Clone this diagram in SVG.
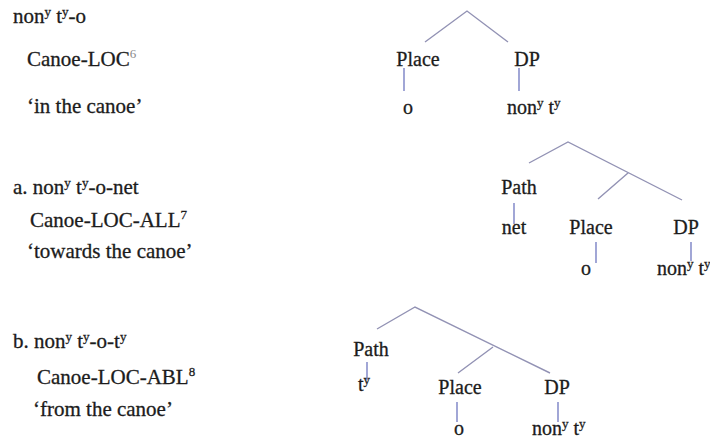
<svg xmlns="http://www.w3.org/2000/svg" width="710" height="440" viewBox="0 0 710 440">
<style>
text{font-family:"Liberation Serif","Times New Roman",serif;font-size:20px;fill:#1c1c1c;stroke:#1c1c1c;stroke-width:0.3}
.g text{font-size:21px}
.sup{font-size:13px}
.br{stroke:#9292b4;stroke-width:1.4;fill:none}
.vl{stroke:#7078c0;stroke-width:1.3;fill:none}
</style>
<rect width="710" height="440" fill="#ffffff"/>
<g id="gloss-main" class="g">
<text x="13" y="23">non<tspan class="sup" dy="-7">y</tspan><tspan dy="7"> t</tspan><tspan class="sup" dy="-7">y</tspan><tspan dy="7">-o</tspan></text>
<text x="27" y="66">Canoe-LOC<tspan class="sup" dy="-8" fill="#8a8a8a" stroke="none">6</tspan></text>
<text x="27" y="113">‘in the canoe’</text>
</g>
<g id="gloss-a" class="g">
<text x="13" y="194">a. non<tspan class="sup" dy="-7">y</tspan><tspan dy="7"> t</tspan><tspan class="sup" dy="-7">y</tspan><tspan dy="7">-o-net</tspan></text>
<text x="30" y="227">Canoe-LOC-ALL<tspan class="sup" dy="-8">7</tspan></text>
<text x="27" y="258">‘towards the canoe’</text>
</g>
<g id="gloss-b" class="g">
<text x="13" y="348">b. non<tspan class="sup" dy="-7">y</tspan><tspan dy="7"> t</tspan><tspan class="sup" dy="-7">y</tspan><tspan dy="7">-o-t</tspan><tspan class="sup" dy="-7">y</tspan></text>
<text x="37" y="384">Canoe-LOC-ABL<tspan class="sup" dy="-8">8</tspan></text>
<text x="33" y="416">‘from the canoe’</text>
</g>
<g id="connectors">
<path class="br" d="M425,42 L467,11 L508,42"/>
<path class="vl" d="M404,68 V91 M519,68 V91"/>
<path class="br" d="M529,163 L568,142 L682,200 M628,173 L598,199"/>
<path class="vl" d="M514,203 V224 M596,242 V263 M691,242 V261"/>
<path class="br" d="M377,329 L415,307 L550,373 M493,347 L458,373"/>
<path class="vl" d="M367,362 V380 M457,402 V422 M558,402 V422"/>
</g>
<g id="t1-place"><text x="418" y="66" text-anchor="middle">Place</text></g>
<g id="t1-dp"><text x="527" y="66" text-anchor="middle">DP</text></g>
<g id="t1-o"><text x="408" y="114" text-anchor="middle">o</text></g>
<g id="t1-nonyty"><text x="507" y="114">non<tspan class="sup" dy="-7">y</tspan><tspan dy="7"> t</tspan><tspan class="sup" dy="-7">y</tspan></text></g>
<g id="ta-path"><text x="519" y="194" text-anchor="middle">Path</text></g>
<g id="ta-net"><text x="514" y="234" text-anchor="middle">net</text></g>
<g id="ta-place"><text x="591" y="234" text-anchor="middle">Place</text></g>
<g id="ta-dp"><text x="686" y="234" text-anchor="middle">DP</text></g>
<g id="ta-o"><text x="586" y="275" text-anchor="middle">o</text></g>
<g id="ta-nonyty"><text x="657" y="275">non<tspan class="sup" dy="-7">y</tspan><tspan dy="7"> t</tspan><tspan class="sup" dy="-7">y</tspan></text></g>
<g id="tb-path"><text x="371" y="356" text-anchor="middle">Path</text></g>
<g id="tb-ty"><text x="358" y="391">t<tspan class="sup" dy="-7">y</tspan></text></g>
<g id="tb-place"><text x="460" y="394" text-anchor="middle">Place</text></g>
<g id="tb-dp"><text x="557" y="394" text-anchor="middle">DP</text></g>
<g id="tb-o"><text x="459" y="435" text-anchor="middle">o</text></g>
<g id="tb-nonyty"><text x="532" y="435">non<tspan class="sup" dy="-7">y</tspan><tspan dy="7"> t</tspan><tspan class="sup" dy="-7">y</tspan></text></g>
</svg>
